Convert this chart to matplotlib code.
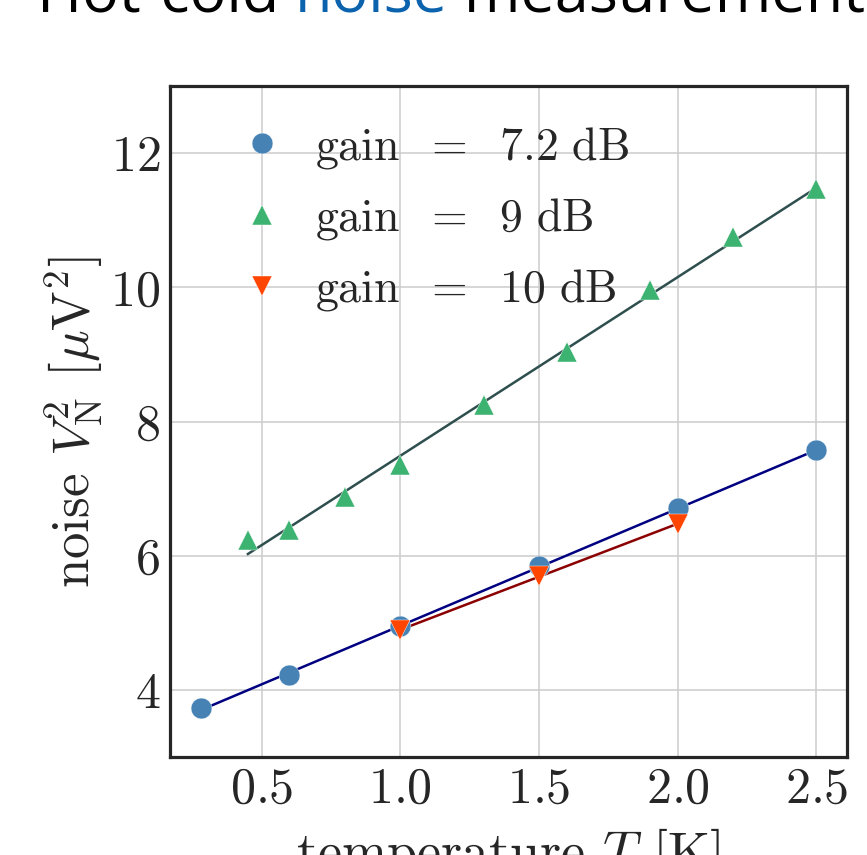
import numpy as np
import matplotlib
matplotlib.use("Agg")
from matplotlib import pyplot as plt

plt.rcParams["font.family"] = "cmr10"
plt.rcParams["mathtext.fontset"] = "cm"
plt.rcParams["axes.unicode_minus"] = False
plt.rcParams["axes.formatter.use_mathtext"] = True

temp_72 = [0.28, 0.6, 1.0, 1.5, 2.0, 2.5]
noise_72 = [3.73, 4.22, 4.95, 5.84, 6.71, 7.57]

temp_9 = [0.45, 0.6, 0.8, 1.0, 1.3, 1.6, 1.9, 2.2, 2.5]
noise_9 = [6.24, 6.39, 6.88, 7.35, 8.24, 9.04, 9.96, 10.75, 11.47]

temp_10 = [1.0, 1.5, 2.0]
noise_10 = [4.89, 5.70, 6.47]

series = [
    (temp_72, noise_72, "o", "steelblue", "navy", "7.2"),
    (temp_9, noise_9, "^", "mediumseagreen", "darkslategray", "9"),
    (temp_10, noise_10, "v", "orangered", "darkred", "10"),
]

fig = plt.figure(figsize=(8.67, 8.55), dpi=100)
ax = fig.add_axes([170 / 867, 1 - 757 / 855, (847 - 170) / 867, (757 - 86) / 855])

for t, v, mk, col, fitcol, gain in series:
    t = np.array(t)
    v = np.array(v)
    # linear fit over the measured range
    p = np.polyfit(t, v, 1)
    tt = np.array([t.min(), t.max()])
    ax.plot(tt, np.polyval(p, tt), color=fitcol, lw=1.8, zorder=2)
    lab = r"$\mathrm{gain}\ \;=\;\ \mathrm{%s\ dB}$" % gain
    ax.plot(t, v, ls="none", marker=mk, ms=15, color=col, mec="white",
            mew=0.3, label=lab, zorder=3)

ax.set_ylim(3, 13)
ax.set_xticks([0.5, 1.0, 1.5, 2.0, 2.5])
ax.set_yticks([4, 6, 8, 10, 12])
ax.tick_params(length=0, pad=7, labelsize=36, colors="#262626")
ax.grid(True, color="#cccccc", lw=1.1)
ax.set_axisbelow(True)
for s in ax.spines.values():
    s.set_color("#262626")
    s.set_linewidth(2.3)

ax.set_xlabel(r"temperature $T$ $[\mathrm{K}]$", fontsize=39, color="#262626",
              labelpad=10)
ax.set_ylabel(r"noise $V_\mathrm{N}^2$ $[\mu\mathrm{V}^2]$", fontsize=38,
              color="#262626")

ax.legend(loc="upper left", bbox_to_anchor=(7 / 677, 1), frameon=False,
          fontsize=33, numpoints=1, handletextpad=0.17, labelspacing=0.55,
          borderaxespad=0.45, handlelength=2.0, labelcolor="#262626")

# title pieces, partly above the top edge like the reference
pieces = [("Hot-cold ", "black"), ("noise", "#0b62ad"), (" measurement", "black")]
fig.canvas.draw()
r = fig.canvas.get_renderer()
x0 = 37 / 867
for txt, c in pieces:
    t = fig.text(x0, 1 - 11 / 855, txt, color=c, fontsize=44, family="Open Sans",
                 fontweight="medium", va="baseline", ha="left")
    bb = t.get_window_extent(renderer=r)
    x0 = bb.x1 / fig.bbox.width

fig.savefig("out.png", dpi=100)
